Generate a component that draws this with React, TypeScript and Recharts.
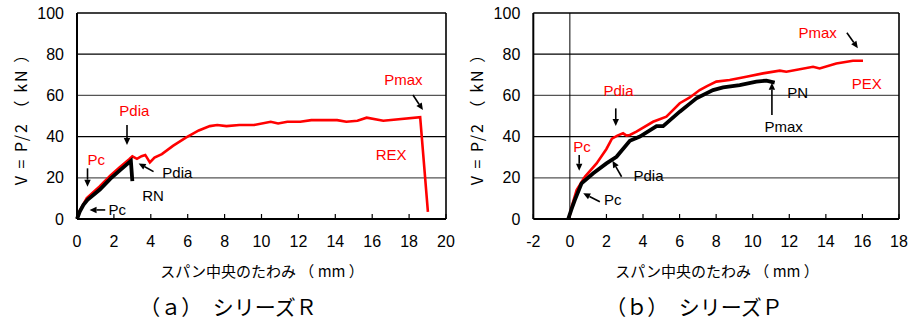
import React from 'react';
import { LineChart, Line, XAxis, YAxis, ReferenceLine, ReferenceDot } from 'recharts';

// ---- Series R ----
const rnData = [
  { x: 0, y: 0 }, { x: 0.15, y: 3.6 }, { x: 0.35, y: 6.9 }, { x: 0.57, y: 9.3 },
  { x: 1.24, y: 14.3 }, { x: 1.8, y: 19.5 }, { x: 2.4, y: 24.2 }, { x: 2.92, y: 28.2 },
  { x: 3.0, y: 18.4 },
];
const rexData = [
  { x: 0, y: 0 }, { x: 0.15, y: 4 }, { x: 0.53, y: 10.2 }, { x: 1.24, y: 15.9 },
  { x: 1.8, y: 21 }, { x: 2.3, y: 25 }, { x: 2.83, y: 29 }, { x: 3.0, y: 30.4 },
  { x: 3.25, y: 29.2 }, { x: 3.5, y: 30.5 }, { x: 3.7, y: 31.1 }, { x: 3.95, y: 27.5 },
  { x: 4.2, y: 29.8 }, { x: 4.6, y: 31.5 }, { x: 5.2, y: 35.5 }, { x: 5.9, y: 39.5 },
  { x: 6.6, y: 43 }, { x: 7.2, y: 45.1 }, { x: 7.6, y: 45.6 }, { x: 8.1, y: 45.1 },
  { x: 8.8, y: 45.6 }, { x: 9.6, y: 45.6 }, { x: 10.5, y: 47.2 }, { x: 10.9, y: 46.4 },
  { x: 11.4, y: 47.2 }, { x: 12.1, y: 47.2 }, { x: 12.7, y: 48 }, { x: 14.1, y: 48 },
  { x: 14.6, y: 47.2 }, { x: 15.2, y: 47.7 }, { x: 15.7, y: 49.2 }, { x: 16.6, y: 47.7 },
  { x: 18.6, y: 49.4 }, { x: 19.02, y: 3.5 },
];

// ---- Series P ----
const pnData = [
  { x: -0.09, y: 0 }, { x: 0.1, y: 5 }, { x: 0.27, y: 9.2 }, { x: 0.64, y: 17.3 },
  { x: 1.28, y: 22.2 }, { x: 2.0, y: 27 }, { x: 2.55, y: 30.2 }, { x: 3.28, y: 38 },
  { x: 3.83, y: 40 }, { x: 4.74, y: 45.1 }, { x: 5.1, y: 45.1 }, { x: 6.01, y: 52.1 },
  { x: 6.56, y: 56 }, { x: 6.92, y: 58.6 }, { x: 7.83, y: 62.6 }, { x: 8.38, y: 63.9 },
  { x: 9.29, y: 65 }, { x: 10.2, y: 66.7 }, { x: 10.75, y: 67.2 }, { x: 11.2, y: 66.2 },
];
const pexData = [
  { x: -0.05, y: 0 }, { x: 0.1, y: 6 }, { x: 0.37, y: 14.1 }, { x: 0.82, y: 20.5 },
  { x: 1.46, y: 27 }, { x: 2.0, y: 34 }, { x: 2.3, y: 39 }, { x: 2.6, y: 40.5 },
  { x: 2.91, y: 41.6 }, { x: 3.1, y: 40.5 }, { x: 3.28, y: 40.8 }, { x: 3.64, y: 42.4 },
  { x: 4.55, y: 47.2 }, { x: 5.28, y: 49.7 }, { x: 6.01, y: 56.2 }, { x: 6.56, y: 59 },
  { x: 7.1, y: 62.6 }, { x: 7.5, y: 64.5 }, { x: 8.01, y: 66.7 }, { x: 8.74, y: 67.5 },
  { x: 9.65, y: 69.1 }, { x: 10.56, y: 70.7 }, { x: 11.48, y: 72 }, { x: 11.84, y: 71.5 },
  { x: 13.3, y: 73.9 }, { x: 13.66, y: 73.1 }, { x: 14.57, y: 75.5 }, { x: 15.48, y: 76.8 },
  { x: 16.03, y: 76.8 },
];

const xTicksR = [0, 2, 4, 6, 8, 10, 12, 14, 16, 18, 20];
const xTicksP = [-2, 0, 2, 4, 6, 8, 10, 12, 14, 16, 18];
const yTicks = [0, 20, 40, 60, 80, 100];
const gridDark = [40, 80];
const gridLight = [20, 60];

const notesR = [
  { x: 17.69, y: 67.5, text: 'Pmax', color: 'red' },
  { x: 17.03, y: 31.1, text: 'REX', color: 'red' },
  { x: 3.11, y: 52.9, text: 'Pdia', color: 'red' },
  { x: 1.05, y: 29.1, text: 'Pc', color: 'red' },
  { x: 5.44, y: 22.8, text: 'Pdia', color: '#000' },
  { x: 4.12, y: 11.2, text: 'RN', color: '#000' },
  { x: 2.18, y: 4.85, text: 'Pc', color: '#000' },
];
const arrowsR = [
  { x1: 18.21, y1: 60.2, x2: 18.75, y2: 52.9 },
  { x1: 2.71, y1: 45.6, x2: 2.71, y2: 35.9 },
  { x1: 0.57, y1: 24.6, x2: 0.57, y2: 15.7 },
  { x1: 4.15, y1: 23, x2: 3.34, y2: 27 },
  { x1: 1.53, y1: 4.4, x2: 0.68, y2: 4.4 },
];
const notesP = [
  { x: 13.55, y: 90.3, text: 'Pmax', color: 'red' },
  { x: 16.23, y: 66, text: 'PEX', color: 'red' },
  { x: 12.46, y: 61.4, text: 'PN', color: '#000' },
  { x: 11.69, y: 44.7, text: 'Pmax', color: '#000' },
  { x: 2.66, y: 62.6, text: 'Pdia', color: 'red' },
  { x: 0.66, y: 35.4, text: 'Pc', color: 'red' },
  { x: 4.3, y: 20.9, text: 'Pdia', color: '#000' },
  { x: 2.35, y: 9.7, text: 'Pc', color: '#000' },
];
const arrowsP = [
  { x1: 15.15, y1: 90.4, x2: 15.75, y2: 82.9 },
  { x1: 11.05, y1: 50.5, x2: 11.05, y2: 66.2 },
  { x1: 2.51, y1: 53.7, x2: 2.51, y2: 45.1 },
  { x1: 0.51, y1: 31.1, x2: 0.51, y2: 23.4 },
  { x1: 2.83, y1: 20.5, x2: 2.33, y2: 28.3 },
  { x1: 1.64, y1: 8.4, x2: 0.73, y2: 12.5 },
];

const LATIN = '"Liberation Sans", Arial, sans-serif';
const JP = '"Noto Sans CJK JP", sans-serif';

const Arrow = (props: any) => {
  const { x1, y1, x2, y2 } = props;
  const ang = Math.atan2(y2 - y1, x2 - x1);
  const L = 7;
  const W = 3.2;
  const bx = x2 - L * Math.cos(ang);
  const by = y2 - L * Math.sin(ang);
  const px = -Math.sin(ang) * W;
  const py = Math.cos(ang) * W;
  return (
    <g>
      <line x1={x1} y1={y1} x2={bx} y2={by} stroke="#000" strokeWidth={1.6} />
      <polygon points={`${x2},${y2} ${bx + px},${by + py} ${bx - px},${by - py}`} fill="#000" />
    </g>
  );
};

const makeText = (text: string, color: string) => (props: any) => (
  <text
    x={props.cx}
    y={props.cy}
    fill={color}
    fontSize={15}
    fontFamily={LATIN}
    textAnchor="middle"
    dominantBaseline="central"
  >
    {text}
  </text>
);

type PanelProps = {
  black: { x: number; y: number }[];
  red: { x: number; y: number }[];
  xTicks: number[];
  notes: { x: number; y: number; text: string; color: string }[];
  arrows: { x1: number; y1: number; x2: number; y2: number }[];
  zeroLine: boolean;
  width: number;
  marginLeft: number;
};

const Panel = ({ black, red, xTicks, notes, arrows, zeroLine, width, marginLeft }: PanelProps) => {
  const xMin = xTicks[0];
  const xMax = xTicks[xTicks.length - 1];
  const tickStyle = { fill: '#000', fontSize: 16, fontFamily: LATIN };
  return (
    <LineChart width={width} height={262} margin={{ top: 13, right: 14, left: marginLeft, bottom: 0 }}>
      <XAxis
        type="number"
        dataKey="x"
        domain={[xMin, xMax]}
        ticks={xTicks}
        interval={0}
        axisLine={{ stroke: '#000', strokeWidth: 2 }}
        tickLine={{ stroke: '#000', strokeWidth: 1.2 }}
        tickSize={-5}
        tickMargin={22}
        tick={tickStyle}
        height={43}
      />
      <YAxis
        type="number"
        domain={[0, 100]}
        ticks={yTicks}
        interval={0}
        width={60}
        axisLine={{ stroke: '#000', strokeWidth: 2 }}
        tickLine={false}
        tickSize={0}
        tickMargin={13}
        tick={tickStyle}
      />
      {gridDark.map((v) => (
        <ReferenceLine key={`d${v}`} y={v} stroke="#000" strokeWidth={1.2} />
      ))}
      {gridLight.map((v) => (
        <ReferenceLine key={`l${v}`} y={v} stroke="#555" strokeWidth={1.2} />
      ))}
      <ReferenceLine y={100} stroke="#000" strokeWidth={1.6} />
      <ReferenceLine x={xMax} stroke="#000" strokeWidth={1.6} />
      {zeroLine && <ReferenceLine x={0} stroke="#000" strokeWidth={1} />}
      <Line data={red} dataKey="y" type="linear" stroke="#ff0000" strokeWidth={2.6} dot={false} isAnimationActive={false} />
      <Line data={black} dataKey="y" type="linear" stroke="#000" strokeWidth={3.8} dot={false} isAnimationActive={false} />
      {arrows.map((a, i) => (
        <ReferenceLine
          key={`a${i}`}
          segment={[{ x: a.x1, y: a.y1 }, { x: a.x2, y: a.y2 }]}
          shape={Arrow}
          ifOverflow="visible"
        />
      ))}
      {notes.map((n, i) => (
        <ReferenceDot key={`n${i}`} x={n.x} y={n.y} r={0} shape={makeText(n.text, n.color)} ifOverflow="visible" />
      ))}
    </LineChart>
  );
};

const abs = (left: number, top: number, extra: React.CSSProperties = {}): React.CSSProperties => ({
  position: 'absolute',
  left,
  top,
  transform: 'translate(-50%, -50%)',
  whiteSpace: 'nowrap',
  fontFamily: JP,
  color: '#000',
  lineHeight: 1,
  ...extra,
});

const yLabelStyle: React.CSSProperties = {
  transform: 'translate(-50%, -50%) rotate(-90deg)',
  fontSize: 16,
  letterSpacing: 2,
};

export default function App() {
  return (
    <div style={{ position: 'absolute', left: 0, top: 0, width: 913, height: 329, background: '#fff', overflow: 'hidden' }}>
      <div style={{ position: 'absolute', left: 0, top: 0 }}>
        <Panel black={rnData} red={rexData} xTicks={xTicksR} notes={notesR} arrows={arrowsR} zeroLine={false} width={460} marginLeft={17} />
      </div>
      <div style={{ position: 'absolute', left: 456, top: 0 }}>
        <Panel black={pnData} red={pexData} xTicks={xTicksP} notes={notesP} arrows={arrowsP} zeroLine={true} width={457} marginLeft={17.3} />
      </div>
      <div style={abs(20, 115, yLabelStyle)}>V = P/2 （ kN ）</div>
      <div style={abs(476, 115, yLabelStyle)}>V = P/2 （ kN ）</div>
      <div style={abs(262, 270, { fontSize: 15 })}>スパン中央のたわみ （ mm ）</div>
      <div style={abs(717, 270, { fontSize: 15 })}>スパン中央のたわみ （ mm ）</div>
      <div style={abs(228, 306, { fontSize: 21 })}>（ａ）　シリーズＲ</div>
      <div style={abs(694, 306, { fontSize: 21 })}>（ｂ）　シリーズＰ</div>
    </div>
  );
}
